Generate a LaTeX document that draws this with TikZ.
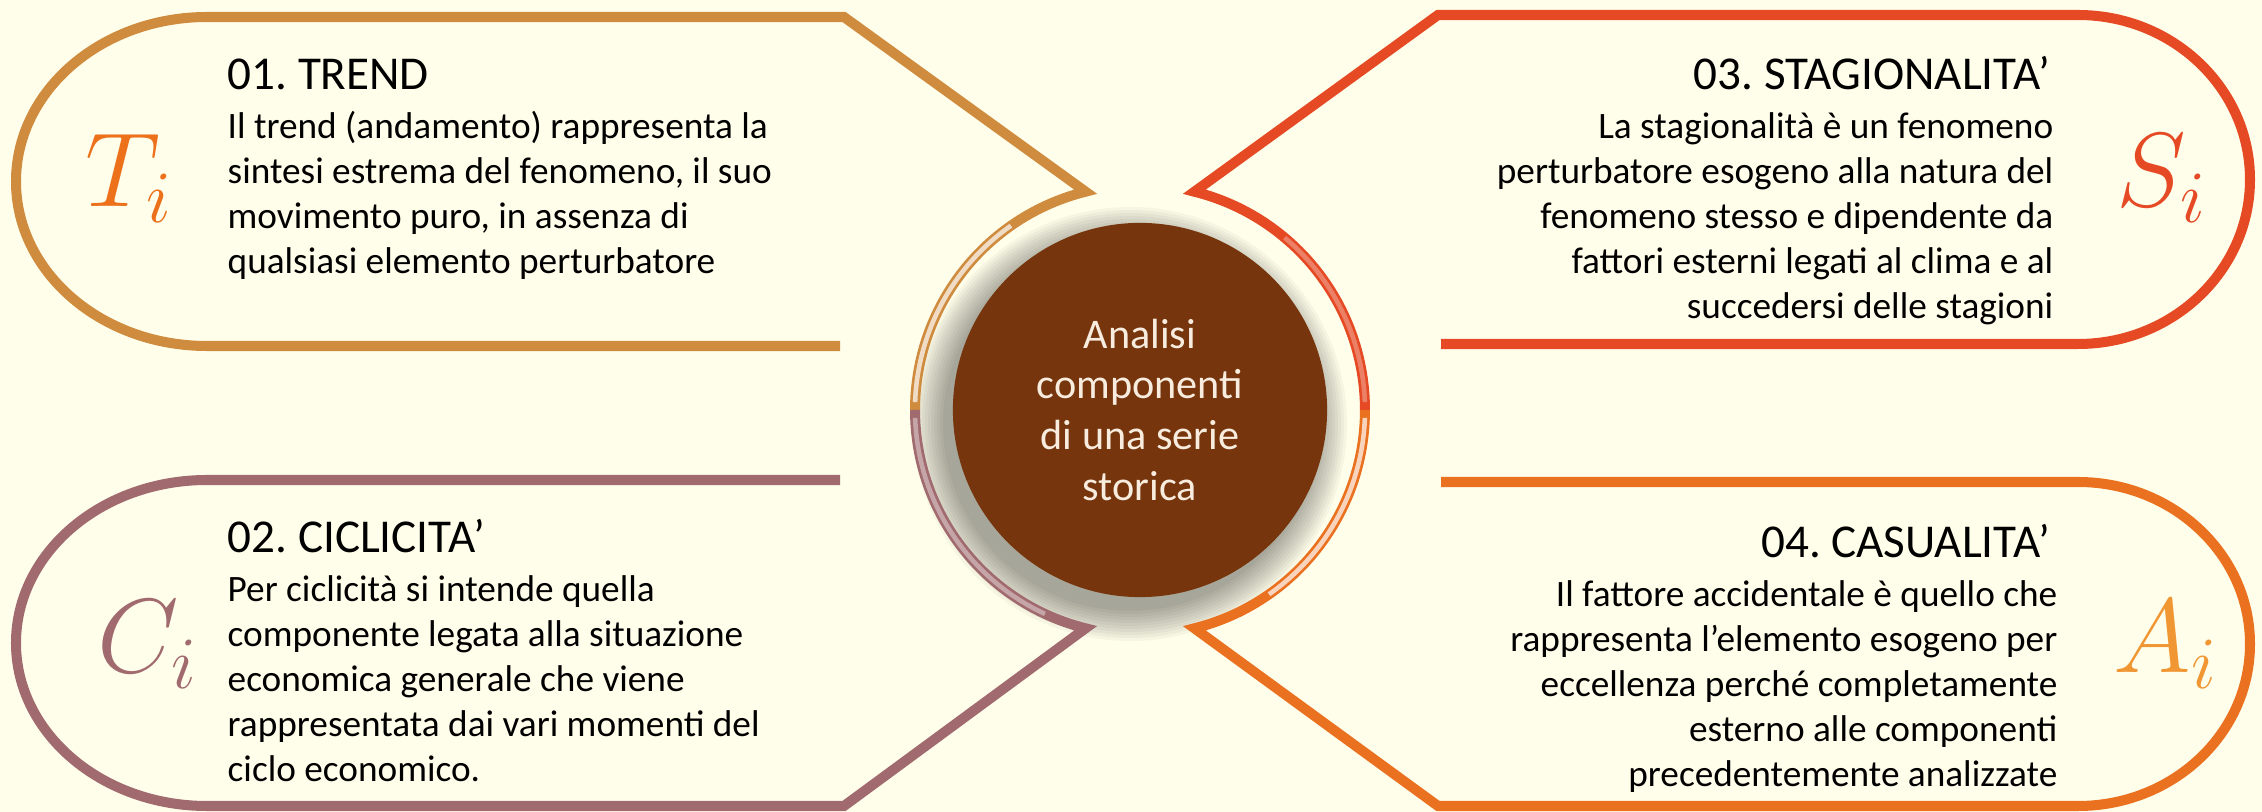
\RequirePackage{fix-cm}
\documentclass[tikz,border=0pt]{standalone}
\usepackage{fontspec}
\setmainfont{Carlito}
\frenchspacing
\definecolor{paper}{RGB}{255,254,235}
\definecolor{trendc}{RGB}{207,139,62}
\definecolor{stagc}{RGB}{229,74,37}
\definecolor{ciclc}{RGB}{160,106,110}
\definecolor{casuc}{RGB}{234,113,32}
\definecolor{trendsym}{RGB}{236,113,26}
\definecolor{casusym}{RGB}{240,150,50}
\definecolor{discmid}{RGB}{118,53,12}
\definecolor{discdark}{RGB}{92,40,10}
\definecolor{discrim}{RGB}{205,165,125}
\definecolor{coretext}{RGB}{247,236,222}
\pgfdeclareradialshading{disc}{\pgfpoint{0bp}{0bp}}{color(0bp)=(discmid); color(42bp)=(discmid); color(48bp)=(discdark); color(50bp)=(discrim)}
\tikzset{
  outline/.style={line width=2.85pt},
  shine/.style={white,opacity=.7,line width=1.3pt},
  head/.style={font=\fontsize{13.4}{16}\selectfont,inner sep=0},
  body/.style={font=\fontsize{10.6}{12.8}\selectfont,inner sep=0},
  sym/.style={font=\fontsize{30}{32}\selectfont,inner sep=0,anchor=base west},
}
\begin{document}
\begin{tikzpicture}[x=0.01cm,y=0.01cm]
  \fill[paper] (0,0) rectangle (2262,812);
  \coordinate (mid) at (1140,402);

  \foreach \k in {0,3,...,30}
    \fill[black,opacity=0.035] (1130,388) circle[radius={187+\k}];
  \node (core) at (mid) [circle,minimum size=3.74cm,inner sep=0,shade,shading=disc,text=coretext,align=center,font=\fontsize{12}{14.5}\selectfont]{Analisi\\componenti\\di una serie\\storica};

  \draw[trendc,outline] (840,466) -- (207,466) arc[start angle=270,end angle=90,x radius=191,y radius=164.5] -- (844,795) -- (1085.6,620.3) arc[start angle=104,end angle=180,radius=225];
  \draw[stagc,outline] (1441,468) -- (2078,468) arc[start angle=-90,end angle=90,x radius=172,y radius=164.5] -- (1438,797) -- (1194.4,620.3) arc[start angle=76,end angle=0,radius=225];
  \draw[ciclc,outline] (840,332) -- (207,332) arc[start angle=90,end angle=270,x radius=191,y radius=163] -- (844,6) -- (1085.6,183.7) arc[start angle=256,end angle=180,radius=225];
  \draw[casuc,outline] (1441,330) -- (2078,330) arc[start angle=90,end angle=-90,x radius=172,y radius=162] -- (1438,6) -- (1194.4,183.7) arc[start angle=284,end angle=360,radius=225];

  \draw[shine] (mid) ++(125:225) arc[start angle=125,end angle=178,radius=225];
  \draw[shine,opacity=.4] (mid) ++(182:225) arc[start angle=182,end angle=245,radius=225];
  \draw[shine,opacity=.3] (mid) ++(50:225) arc[start angle=50,end angle=2,radius=225];
  \draw[shine] (mid) ++(-2:225) arc[start angle=-2,end angle=-55,radius=225];

  \node (trendsym) at (85,605) [sym,trendsym]{$T_i$};
  \node (trendhead) at (227,722) [head,anchor=base west]{01. TREND};
  \node (trendtext) at (227,705.5) [body,anchor=north west,align=left]{\strut Il trend (andamento) rappresenta la\\sintesi estrema del fenomeno, il suo\\movimento puro, in assenza di\\qualsiasi elemento perturbatore};

  \node (stagsym) at (2116,605) [sym,stagc]{$S_i$};
  \node (staghead) at (2051,722) [head,anchor=base east]{03. STAGIONALITA’};
  \node (stagtext) at (2054,705.5) [body,anchor=north east,align=right]{\strut La stagionalità è un fenomeno\\perturbatore esogeno alla natura del\\fenomeno stesso e dipendente da\\fattori esterni legati al clima e al\\succedersi delle stagioni};

  \node (ciclsym) at (97,139) [sym,ciclc]{$C_i$};
  \node (ciclhead) at (227,259) [head,anchor=base west]{02. CICLICITA’};
  \node (cicltext) at (227,242.5) [body,anchor=north west,align=left]{\strut Per ciclicità si intende quella\\componente legata alla situazione\\economica generale che viene\\rappresentata dai vari momenti del\\ciclo economico.};

  \node (casusym) at (2113,139) [sym,casusym]{$A_i$};
  \node (casuhead) at (2051,254) [head,anchor=base east]{04. CASUALITA’};
  \node (casutext) at (2058,237.5) [body,anchor=north east,align=right]{\strut Il fattore accidentale è quello che\\rappresenta l’elemento esogeno per\\eccellenza perché completamente\\esterno alle componenti\\precedentemente analizzate};
\end{tikzpicture}
\end{document}
